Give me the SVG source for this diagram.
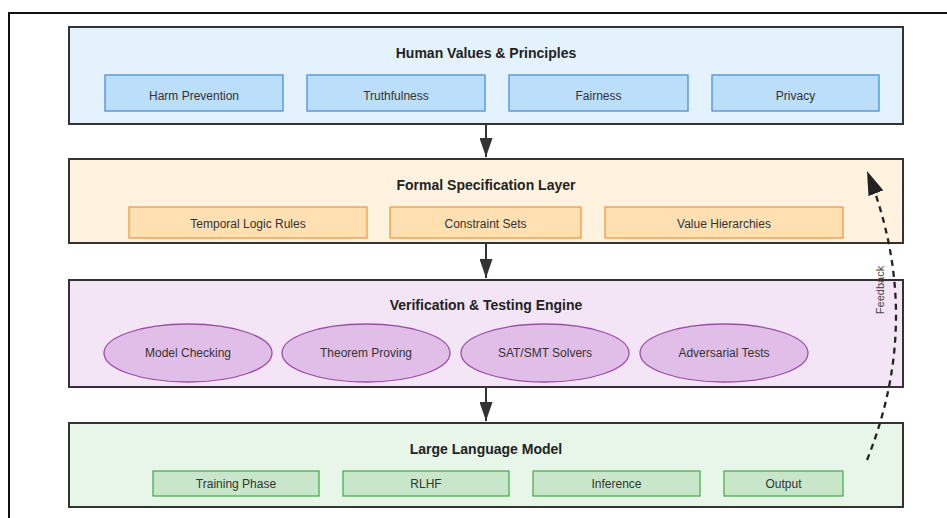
<svg xmlns="http://www.w3.org/2000/svg" width="947" height="518" viewBox="0 0 947 518">
<defs>
<style>
.layer{stroke:#333;stroke-width:2}
.title{font-family:"Liberation Sans",Arial,sans-serif;font-size:14px;font-weight:bold;fill:#222;text-anchor:middle}
.lbl{font-family:"Liberation Sans",Arial,sans-serif;font-size:12px;fill:#333;text-anchor:middle}
.blue{fill:#bbdefb;stroke:#4a8fd8;stroke-width:1.3}
.orange{fill:#ffe0b2;stroke:#f09a40;stroke-width:1.3}
.purple{fill:#e1bee7;stroke:#9c4da8;stroke-width:1.3}
.green{fill:#c8e6c9;stroke:#4caf50;stroke-width:1.3}
.conn{stroke:#333;stroke-width:2;fill:none}
</style>
<marker id="ah" markerWidth="19" markerHeight="13" refX="19" refY="6.5" orient="auto" markerUnits="userSpaceOnUse" viewBox="0 0 19 13">
<path d="M0,0 L19,6.5 L0,13 Z" fill="#333"/>
</marker>
<marker id="ahf" markerWidth="24" markerHeight="16" refX="24" refY="8" orient="auto" markerUnits="userSpaceOnUse" viewBox="0 0 24 16">
<path d="M0,0 L24,8 L0,16 Z" fill="#222"/>
</marker>
</defs>
<rect x="0" y="0" width="947" height="518" fill="#fff"/>
<rect x="9" y="13" width="960" height="530" fill="none" stroke="#111" stroke-width="2"/>

<g id="human-values">
<rect class="layer" x="69" y="27" width="834" height="97" fill="#e3f2fd"/>
<text class="title" x="486" y="58">Human Values &amp; Principles</text>
<g id="harm-prevention"><rect class="blue" x="105" y="75" width="178" height="36"/><text class="lbl" x="194" y="100">Harm Prevention</text></g>
<g id="truthfulness"><rect class="blue" x="307" y="75" width="178" height="36"/><text class="lbl" x="396" y="100">Truthfulness</text></g>
<g id="fairness"><rect class="blue" x="509" y="75" width="179" height="36"/><text class="lbl" x="598.5" y="100">Fairness</text></g>
<g id="privacy"><rect class="blue" x="712" y="75" width="167" height="36"/><text class="lbl" x="795.5" y="100">Privacy</text></g>
</g>

<g id="formal-spec">
<rect class="layer" x="69" y="159" width="834" height="84" fill="#fff3e0"/>
<text class="title" x="486" y="190">Formal Specification Layer</text>
<g id="temporal-logic"><rect class="orange" x="129" y="207" width="238" height="31"/><text class="lbl" x="248" y="228">Temporal Logic Rules</text></g>
<g id="constraint-sets"><rect class="orange" x="390" y="207" width="191" height="31"/><text class="lbl" x="485.5" y="228">Constraint Sets</text></g>
<g id="value-hierarchies"><rect class="orange" x="605" y="207" width="238" height="31"/><text class="lbl" x="724" y="228">Value Hierarchies</text></g>
</g>

<g id="verification">
<rect class="layer" x="69" y="280" width="834" height="107" fill="#f3e5f5"/>
<text class="title" x="486" y="310">Verification &amp; Testing Engine</text>
<g id="model-checking"><ellipse class="purple" cx="188" cy="353" rx="84" ry="29"/><text class="lbl" x="188" y="357">Model Checking</text></g>
<g id="theorem-proving"><ellipse class="purple" cx="366" cy="353" rx="84" ry="29"/><text class="lbl" x="366" y="357">Theorem Proving</text></g>
<g id="sat-smt"><ellipse class="purple" cx="545" cy="353" rx="84" ry="29"/><text class="lbl" x="545" y="357">SAT/SMT Solvers</text></g>
<g id="adversarial"><ellipse class="purple" cx="724" cy="353" rx="84" ry="29"/><text class="lbl" x="724" y="357">Adversarial Tests</text></g>
</g>

<g id="llm">
<rect class="layer" x="69" y="423" width="834" height="84" fill="#e8f5e9"/>
<text class="title" x="486" y="454">Large Language Model</text>
<g id="training"><rect class="green" x="153" y="471" width="166" height="25"/><text class="lbl" x="236" y="488">Training Phase</text></g>
<g id="rlhf"><rect class="green" x="343" y="471" width="166" height="25"/><text class="lbl" x="426" y="488">RLHF</text></g>
<g id="inference"><rect class="green" x="533" y="471" width="167" height="25"/><text class="lbl" x="616.5" y="488">Inference</text></g>
<g id="output"><rect class="green" x="724" y="471" width="119" height="25"/><text class="lbl" x="783.5" y="488">Output</text></g>
</g>

<g id="connectors">
<line class="conn" x1="486" y1="125" x2="486" y2="157" marker-end="url(#ah)"/>
<line class="conn" x1="486" y1="244" x2="486" y2="278" marker-end="url(#ah)"/>
<line class="conn" x1="486" y1="388" x2="486" y2="421" marker-end="url(#ah)"/>
<path d="M867,460 Q925,316 867,171" fill="none" stroke="#222" stroke-width="2.3" stroke-dasharray="6,5" marker-end="url(#ahf)"/>
<text x="884" y="290" transform="rotate(-90 884 290)" font-family="'Liberation Sans',Arial,sans-serif" font-size="11" fill="#444" text-anchor="middle">Feedback</text>
</g>
</svg>
